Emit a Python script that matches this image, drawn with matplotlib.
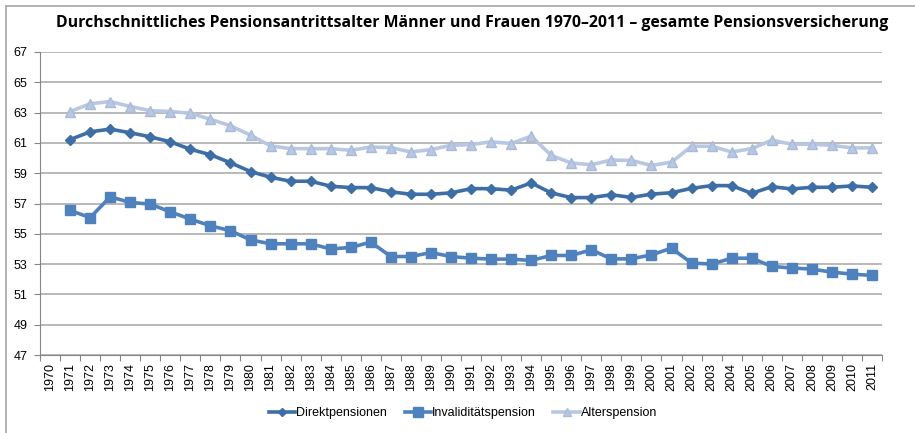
import numpy as np
import matplotlib.pyplot as plt

years = list(range(1970, 2012))

# 1970 hat keine Werte
direkt = [np.nan, 61.22, 61.73, 61.91, 61.67, 61.40, 61.07, 60.58, 60.22, 59.69, 59.11,
          58.73, 58.47, 58.47, 58.14, 58.05, 58.05, 57.77, 57.61, 57.61, 57.70,
          57.98, 57.98, 57.88, 58.36, 57.70, 57.39, 57.39, 57.58, 57.40, 57.62,
          57.71, 58.00, 58.18, 58.18, 57.67, 58.11, 57.96, 58.07, 58.07, 58.16, 58.07]
invalid = [np.nan, 56.54, 56.07, 57.44, 57.07, 56.96, 56.45, 55.97, 55.53, 55.20, 54.60,
           54.34, 54.34, 54.34, 54.00, 54.10, 54.45, 53.50, 53.50, 53.76, 53.50,
           53.39, 53.33, 53.33, 53.24, 53.57, 53.57, 53.94, 53.34, 53.35, 53.61,
           54.05, 53.07, 53.00, 53.39, 53.39, 52.85, 52.74, 52.67, 52.47, 52.34, 52.25]
alter = [np.nan, 63.07, 63.58, 63.73, 63.40, 63.13, 63.07, 62.96, 62.56, 62.13, 61.51,
         60.80, 60.62, 60.62, 60.62, 60.51, 60.73, 60.69, 60.40, 60.56, 60.84,
         60.89, 61.07, 60.96, 61.44, 60.18, 59.67, 59.56, 59.87, 59.84, 59.51,
         59.73, 60.78, 60.78, 60.40, 60.62, 61.18, 60.91, 60.91, 60.84, 60.67, 60.67]

plt.rcParams['font.family'] = ['Liberation Sans', 'DejaVu Sans']

fig = plt.figure(figsize=(9.15, 4.33), dpi=100)
ax = fig.add_axes([40 / 915, 1 - 355 / 433, 842 / 915, 303 / 433])

ax.plot(years, alter, color='#b9c8e2', lw=2.6, marker='^', ms=7,
        mfc='#b9c8e2', mec='#a9bada', label='Alterspension', zorder=3)
ax.plot(years, direkt, color='#3e6ea6', lw=2.6, marker='D', ms=5,
        mfc='#3e6ea6', mec='#3e6ea6', label='Direktpensionen', zorder=4)
ax.plot(years, invalid, color='#4f81bd', lw=2.6, marker='s', ms=7.3,
        mfc='#4f81bd', mec='#4f81bd', label='Invaliditätspension', zorder=3)

ax.set_xlim(1969.5, 2011.5)
ax.set_ylim(47, 67)
ax.set_yticks(range(47, 68, 2))
ax.yaxis.grid(True, color='#a6a6a6', lw=1.1)
ax.set_axisbelow(True)

# Striche an den Kategoriegrenzen, Beschriftung in der Mitte
ax.set_xticks([y - 0.5 for y in years] + [2011.5])
ax.set_xticklabels([])
ax.set_xticks(years, minor=True)
ax.set_xticklabels([str(y) for y in years], minor=True, rotation=90, fontsize=9)
ax.tick_params(axis='x', which='major', length=4, color='#868686')
ax.tick_params(axis='x', which='minor', length=0, pad=6)
ax.tick_params(axis='y', length=4, color='#868686', labelsize=9, pad=5)

for s in ['top', 'right']:
    ax.spines[s].set_visible(False)
for s in ['left', 'bottom']:
    ax.spines[s].set_color('#868686')

fig.text(0.5 + 15 / 915, 1 - 23 / 433,
         'Durchschnittliches Pensionsantrittsalter Männer und Frauen 1970–2011 – gesamte Pensionsversicherung',
         ha='center', va='center', fontsize=11.45, fontweight='bold', family='Open Sans')

h, l = ax.get_legend_handles_labels()
order = [1, 2, 0]
fig.legend([h[i] for i in order], [l[i] for i in order], loc='center',
           bbox_to_anchor=(463 / 915, 1 - 413 / 433), ncol=3, frameon=False,
           fontsize=9, handlelength=2.1, columnspacing=1.4, handletextpad=0.1,
           markerscale=0.9)

# Rahmen des Diagrammbereichs (links und oben sichtbar)
fig.add_artist(plt.Line2D([6 / 915, 6 / 915], [0, 1 - 6 / 433], color='#a6a6a6', lw=1.2))
fig.add_artist(plt.Line2D([6 / 915, 1], [1 - 6 / 433, 1 - 6 / 433], color='#a6a6a6', lw=1.2))

fig.savefig('out.png', dpi=100)
